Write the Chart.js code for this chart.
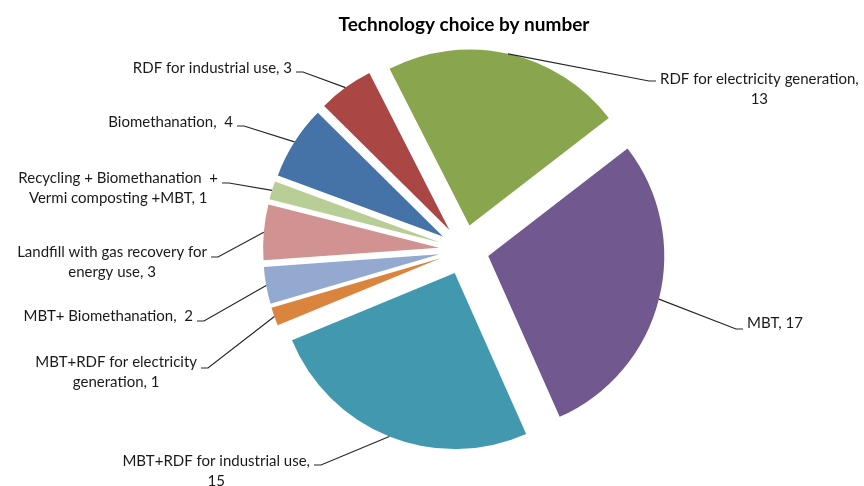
<!DOCTYPE html>
<html>
<head>
    <title>Technology choice by number</title>
    <script src="https://cdn.jsdelivr.net/npm/chart.js"></script>
    <style>
        body { margin: 0; background: #fff; }
        #wrap { width: 864px; height: 486px; }
    </style>
</head>
<body>
    <div id="wrap"><canvas id="tech-chart"></canvas></div>

    <script>
        // Technologies in pie order, clockwise from the top
        const technologies = [
            'RDF for electricity generation',
            'MBT',
            'MBT+RDF for industrial use',
            'MBT+RDF for electricity generation',
            'MBT+ Biomethanation',
            'Landfill with gas recovery for energy use',
            'Recycling + Biomethanation  + Vermi composting +MBT',
            'Biomethanation',
            'RDF for industrial use'
        ];
        const counts = [13, 17, 15, 1, 2, 3, 1, 4, 3];
        const sliceColors = ['#89A54E', '#71588F', '#4198AF', '#DB843D', '#93A9CF',
                             '#D19392', '#B9CD96', '#4572A7', '#AA4643'];

        // label placement: side of the leader the text hangs on, text anchor,
        // height of the leader's horizontal end, and where to break the line
        const labelSpots = [
            { side: 'right', x: 660, y: 79,  lineY: 81,  wrap: 'generation,' },
            { side: 'right', x: 747, y: 323, lineY: 329 },
            { side: 'left',  x: 310, y: 461, lineY: 465, wrap: 'use,' },
            { side: 'left',  x: 197, y: 362, lineY: 368, wrap: 'electricity' },
            { side: 'left',  x: 193, y: 316, lineY: 321, sep: ',  ' },
            { side: 'left',  x: 207, y: 252, lineY: 257, wrap: 'recovery for' },
            { side: 'left',  x: 218, y: 178, lineY: 183, wrap: 'Biomethanation  +' },
            { side: 'left',  x: 233, y: 122, lineY: 126, sep: ',  ' },
            { side: 'left',  x: 292, y: 68,  lineY: 72 }
        ];

        const EXPLODE = 25;
        const FONT = 'Lato, "Liberation Sans", sans-serif';

        // every slice pulled out along its bisector, plus outside labels with leaders
        const explodedPie = {
            id: 'explodedPie',
            beforeDatasetDraw(chart, args) {
                const ctx = chart.ctx;
                args.meta.data.forEach(arc => {
                    const mid = (arc.startAngle + arc.endAngle) / 2;
                    ctx.save();
                    ctx.translate(Math.cos(mid) * EXPLODE, Math.sin(mid) * EXPLODE);
                    arc.draw(ctx);
                    ctx.restore();
                });
                return false;
            },
            afterDatasetsDraw(chart) {
                const ctx = chart.ctx;
                const meta = chart.getDatasetMeta(0);
                ctx.save();
                ctx.font = '15px ' + FONT;
                ctx.textAlign = 'center';
                ctx.textBaseline = 'middle';
                meta.data.forEach((arc, i) => {
                    const spot = labelSpots[i];
                    const mid = (arc.startAngle + arc.endAngle) / 2;
                    const r = arc.outerRadius + EXPLODE;
                    const sx = arc.x + Math.cos(mid) * r;
                    const sy = arc.y + Math.sin(mid) * r;
                    const dir = spot.side === 'right' ? 1 : -1;
                    const endX = spot.x - dir * 4;
                    const elbowX = endX - dir * 7;

                    ctx.strokeStyle = '#262626';
                    ctx.lineWidth = 1.2;
                    ctx.beginPath();
                    ctx.moveTo(sx, sy);
                    ctx.lineTo(elbowX, spot.lineY);
                    ctx.lineTo(endX, spot.lineY);
                    ctx.stroke();

                    const text = technologies[i] + (spot.sep || ', ') + counts[i];
                    let lines = [text];
                    if (spot.wrap) {
                        const k = text.indexOf(spot.wrap) + spot.wrap.length;
                        lines = [text.slice(0, k).trim(), text.slice(k).trim()];
                    }
                    const w0 = ctx.measureText(lines[0]).width;
                    const cx = spot.x + dir * w0 / 2;
                    ctx.fillStyle = '#1a1a1a';
                    lines.forEach((ln, j) => ctx.fillText(ln, cx, spot.y + j * 20));
                });
                ctx.restore();
            }
        };

        const ctx = document.getElementById('tech-chart').getContext('2d');
        new Chart(ctx, {
            type: 'pie',
            data: {
                labels: technologies,
                datasets: [{
                    data: counts,
                    backgroundColor: sliceColors,
                    borderWidth: 0
                }]
            },
            options: {
                responsive: true,
                maintainAspectRatio: false,
                animation: false,
                events: [],
                rotation: -27,
                radius: 176,
                layout: {
                    padding: { left: 64, right: 0, top: 13, bottom: 22 }
                },
                plugins: {
                    legend: { display: false },
                    tooltip: { enabled: false },
                    title: {
                        display: true,
                        text: 'Technology choice by number',
                        color: '#000',
                        font: { family: FONT, size: 19, weight: 'bold' },
                        padding: { top: 0, bottom: 0 }
                    }
                }
            },
            plugins: [explodedPie]
        });
    </script>
</body>
</html>
